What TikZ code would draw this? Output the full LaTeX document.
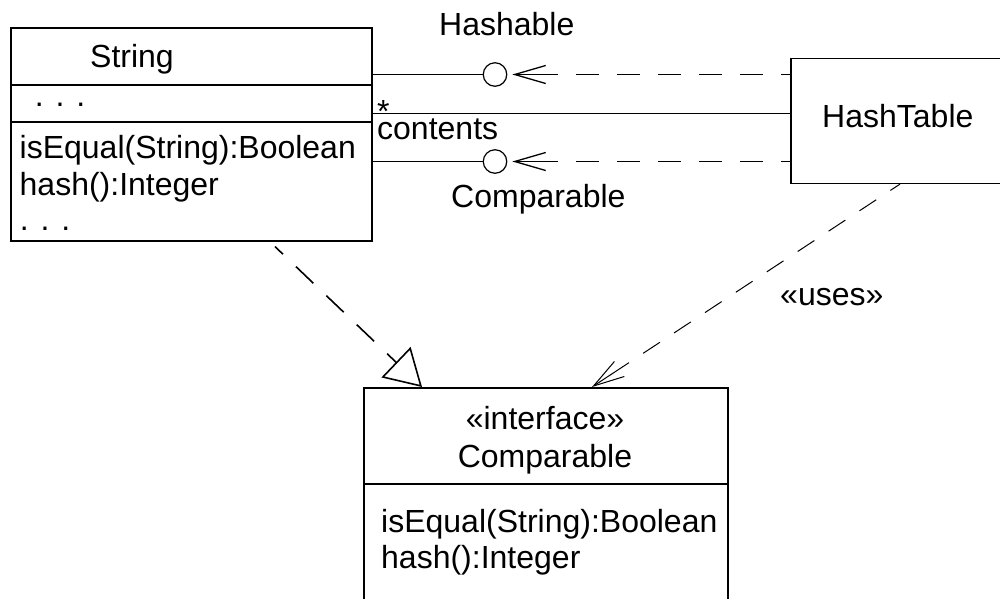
\documentclass[tikz,border=0pt]{standalone}
\usepackage{fontspec}
\setmainfont{Liberation Sans}
\usetikzlibrary{arrows.meta}
\begin{document}
\begin{tikzpicture}[x=1pt,y=-1pt,
  umlbox/.style={draw, line width=1.6pt, inner sep=0pt, anchor=north west},
  lbl/.style={inner sep=0pt, anchor=base west, font=\fontsize{32}{36}\selectfont},
  lblc/.style={lbl, anchor=base},
  conn/.style={line width=1.6pt},
  iface/.style={circle, draw, line width=1.2pt, minimum size=23.5pt, inner sep=0pt},
  dep/.style={line width=1.6pt, {Straight Barb[length=31pt,width=18pt,line width=1.3pt]}-,
    dash pattern=on 43pt off 18pt on 23pt off 18pt on 23pt off 18pt on 23pt off 18pt on 23pt off 18pt on 23pt off 18pt on 23pt off 18pt on 23pt off 18pt},
  realize/.style={line width=1.6pt, dash pattern=on 24pt off 18pt, dash phase=13pt,
    -{Triangle[open,length=36pt,width=42pt,line width=1.6pt]}},
  usesdep/.style={line width=1pt, {Straight Barb[length=31pt,width=18pt,line width=1pt]}-,
    dash pattern=on 42pt off 17pt on 20pt off 17pt on 20pt off 17pt on 20pt off 17pt on 20pt off 17pt on 20pt off 17pt on 20pt off 17pt on 20pt off 17pt on 20pt off 17pt on 20pt off 17pt}
]
\useasboundingbox (0,0) rectangle (1000,598);
\fill[white] (0,0) rectangle (1000,598);
\clip (0,0) rectangle (1000,598);

% String class
\node[umlbox, minimum width=361pt, minimum height=213pt] (str) at (10,27) {};
\coordinate (s1) at (0,85);
\coordinate (s2) at (0,122);
\draw[conn] (str.west |- s1) -- (str.east |- s1);
\draw[conn] (str.west |- s2) -- (str.east |- s2);
\node[lbl] (tStr) at (90,67) {String};
\node[lbl] (tDots1) at (34.6,106) {. . .};
\node[lbl] (tEq1) at (19.5,158) {isEqual(String):Boolean};
\node[lbl] (tHash1) at (19.5,195) {hash():Integer};
\node[lbl] (tDots2) at (19.6,230) {. . .};

% HashTable
\node[umlbox, minimum width=230pt, minimum height=125pt] (ht) at (790,57.5) {};
\node[lbl] (tHT) at (822,127) {HashTable};

% Interface Comparable
\node[umlbox, minimum width=364pt, minimum height=260pt] (ifc) at (363,387) {};
\coordinate (s3) at (0,484);
\draw[conn] (ifc.west |- s3) -- (ifc.east |- s3);
\node[lblc] (tSt) at (545,429) {«interface»};
\node[lblc] (tCmp) at (545,467) {Comparable};
\node[lbl] (tEq2) at (381,532) {isEqual(String):Boolean};
\node[lbl] (tHash2) at (381,568) {hash():Integer};

% lollipops
\node[iface] (hc) at (495,74.5) {};
\node[iface] (cc) at (495,161.5) {};
\draw[conn] (str.east |- hc) -- (hc.west);
\draw[conn] (str.east |- cc) -- (cc.west);
\draw[dep] ([xshift=5pt]hc.east) -- (ht.west |- hc);
\draw[dep] ([xshift=5pt]cc.east) -- (ht.west |- cc);
\node[lbl] (tHashable) at (439,35) {Hashable};
\node[lbl] (tComparable) at (451,207) {Comparable};

% association
\coordinate (yc) at (0,113.3);
\draw[conn] (str.east |- yc) -- (ht.west |- yc);
\node[lbl] (tStar) at (377,108.5) {\raisebox{-14pt}[9pt][0pt]{*}};
\node[lbl] (tContents) at (377,139.5) {contents};

% realization
\coordinate (rS) at ([shift={(265,5)}]str.south west);
\coordinate (rT) at ([xshift=59pt]ifc.north west);
\draw[realize] (rS) -- (rT);

% uses
\coordinate (uS) at ([xshift=110pt]ht.south west);
\coordinate (uT) at ([xshift=229pt]ifc.north west);
\draw[usesdep] (uT) -- (uS);
\node[lbl] (tUses) at (780,305) {«uses»};
\end{tikzpicture}
\end{document}
